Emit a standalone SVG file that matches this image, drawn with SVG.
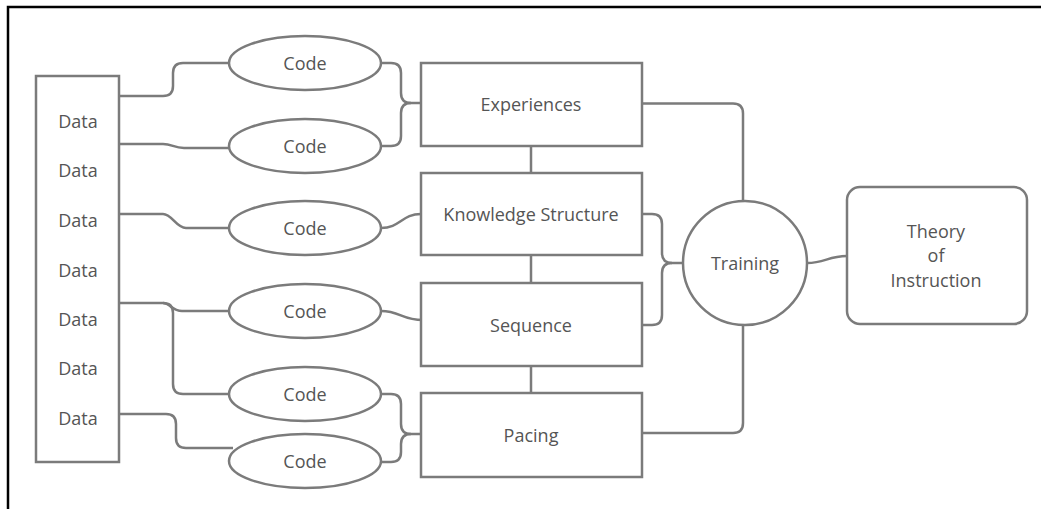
<svg xmlns="http://www.w3.org/2000/svg" width="1041" height="509" viewBox="0 0 1041 509">
<style>
.s{fill:#fff;stroke:#7b7b7b;stroke-width:2.5}
.c{fill:none;stroke:#7b7b7b;stroke-width:2.5}
.t{font-family:"Open Sans","Noto Sans",sans-serif;font-size:18px;fill:#555;text-anchor:middle}
</style>
<rect width="1041" height="509" fill="#fff"/>
<path d="M8,509 V7 H1041" fill="none" stroke="#000" stroke-width="2.5"/>
<g id="connectors">
<path class="c" d="M119,96 H163 Q173,96 173,86 V73 Q173,63 183,63 H229"/>
<path class="c" d="M119,144 H163 C172,144 174,148 184,148 H229"/>
<path class="c" d="M119,214 H163 C172,214 176,228 186,228 H229"/>
<path class="c" d="M119,303 H163 C170,303 172,311 182,311 H229"/>
<path class="c" d="M163,303 Q173,303 173,313 V384 Q173,394 183,394 H229"/>
<path class="c" d="M119,414 H166 Q176,414 176,424 V438 Q176,448 186,448 H233"/>
<path class="c" d="M381,63 H391 Q401,63 401,73 V93 Q401,103 411,103 H421"/>
<path class="c" d="M381,146 H391 Q401,146 401,136 V113 Q401,103 411,103"/>
<path class="c" d="M381,228 C400,228 402,214 421,214"/>
<path class="c" d="M381,311 C400,311 402,320 423,320"/>
<path class="c" d="M381,394 H391 Q401,394 401,404 V424 Q401,434 411,434 H421"/>
<path class="c" d="M381,462 H391 Q401,462 401,452 V444 Q401,434 411,434"/>
<path class="c" d="M531,146 V173 M531,255 V283 M531,366 V393"/>
<path class="c" d="M642,103.5 H733 Q743,103.5 743,113.5 V201"/>
<path class="c" d="M642,214 H652 Q662,214 662,224 V253 Q662,263 672,263 H683"/>
<path class="c" d="M642,325 H652 Q662,325 662,315 V273 Q662,263 672,263"/>
<path class="c" d="M642,433 H733 Q743,433 743,423 V325"/>
<path class="c" d="M807,263 C825,263 828,256 847,256"/>
</g>
<g id="data"><rect class="s" x="36" y="76" width="83" height="386"/>
<text class="t" x="78" y="128">Data</text><text class="t" x="78" y="177">Data</text><text class="t" x="78" y="227">Data</text><text class="t" x="78" y="277">Data</text><text class="t" x="78" y="326">Data</text><text class="t" x="78" y="375">Data</text><text class="t" x="78" y="425">Data</text></g>
<g id="code1"><ellipse class="s" cx="305" cy="63" rx="76" ry="27"/><text class="t" x="305" y="69.5">Code</text></g>
<g id="code2"><ellipse class="s" cx="305" cy="146" rx="76" ry="27"/><text class="t" x="305" y="152.5">Code</text></g>
<g id="code3"><ellipse class="s" cx="305" cy="228" rx="76" ry="27"/><text class="t" x="305" y="234.5">Code</text></g>
<g id="code4"><ellipse class="s" cx="305" cy="311" rx="76" ry="27"/><text class="t" x="305" y="317.5">Code</text></g>
<g id="code5"><ellipse class="s" cx="305" cy="394" rx="76" ry="27"/><text class="t" x="305" y="400.5">Code</text></g>
<g id="code6"><ellipse class="s" cx="305" cy="461" rx="76" ry="27"/><text class="t" x="305" y="467.5">Code</text></g>
<g id="experiences"><rect class="s" x="421" y="63" width="221" height="83"/><text class="t" x="531" y="111">Experiences</text></g>
<g id="knowledge"><rect class="s" x="421" y="173" width="221" height="82"/><text class="t" x="531" y="221">Knowledge Structure</text></g>
<g id="sequence"><rect class="s" x="421" y="283" width="221" height="83"/><text class="t" x="531" y="332">Sequence</text></g>
<g id="pacing"><rect class="s" x="421" y="393" width="221" height="84"/><text class="t" x="531" y="442">Pacing</text></g>
<g id="training"><circle class="s" cx="745" cy="263" r="62"/><text class="t" x="745" y="269.5">Training</text></g>
<g id="theory"><rect class="s" x="847" y="187" width="180" height="137" rx="13"/>
<text class="t" x="936" y="238">Theory</text><text class="t" x="936" y="262">of</text><text class="t" x="936" y="287">Instruction</text></g>
</svg>
